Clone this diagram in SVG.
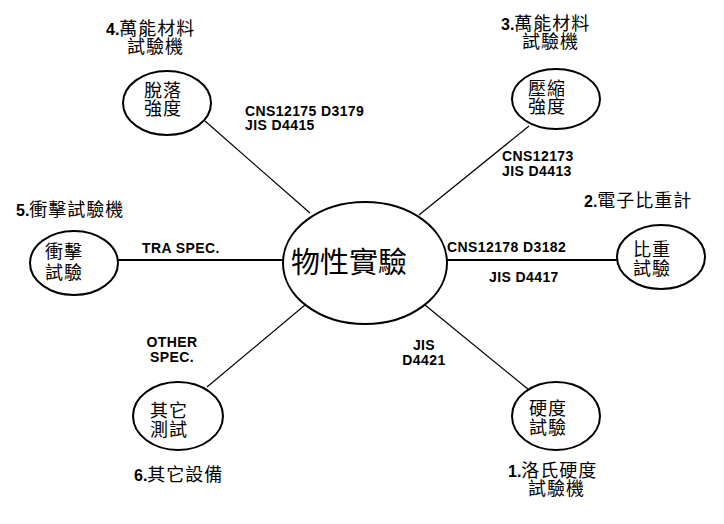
<svg xmlns="http://www.w3.org/2000/svg" width="724" height="524" viewBox="0 0 724 524">
<style>
.node ellipse{fill:#fff;stroke:#000;stroke-width:2}
.cjk{font-family:"Noto Sans CJK TC","Noto Sans CJK SC",sans-serif;font-size:18px;letter-spacing:1px;fill:#000}
.in{text-anchor:middle}
.num{font-family:"Liberation Sans",Arial,sans-serif;font-weight:bold;font-size:16px;letter-spacing:0}
.spec{font-family:"Liberation Sans",Arial,sans-serif;font-weight:bold;font-size:14px;letter-spacing:0.4px;fill:#000}
.thin{stroke:#000;stroke-width:1.2;fill:none}
.thick{stroke:#000;stroke-width:2;fill:none}
</style>
<rect width="724" height="524" fill="#fff"/>
<g id="connectors">
<line class="thin" x1="205" y1="121" x2="310" y2="213"/>
<line class="thin" x1="529" y1="126" x2="419" y2="215"/>
<line class="thick" x1="117" y1="260" x2="283" y2="260"/>
<line class="thick" x1="447" y1="260" x2="617" y2="260"/>
<line class="thin" x1="305" y1="305" x2="207" y2="387"/>
<line class="thin" x1="425" y1="305" x2="529" y2="390"/>
</g>
<g id="center" class="node">
<ellipse cx="365" cy="263" rx="82" ry="61"/>
<text class="cjk in" x="349" y="273" style="font-size:29px;letter-spacing:0">物性實驗</text>
</g>
<g id="n4" class="node">
<ellipse cx="167" cy="103" rx="44" ry="32"/>
<text class="cjk in"><tspan x="163" y="97">脫落</tspan><tspan x="163" y="115">強度</tspan></text>
</g>
<g id="n3" class="node">
<ellipse cx="556" cy="99" rx="44" ry="30"/>
<text class="cjk in"><tspan x="547" y="95">壓縮</tspan><tspan x="547" y="113">強度</tspan></text>
</g>
<g id="n2" class="node">
<ellipse cx="661" cy="257" rx="44" ry="32"/>
<text class="cjk in"><tspan x="652" y="256">比重</tspan><tspan x="652" y="275">試驗</tspan></text>
</g>
<g id="n5" class="node">
<ellipse cx="74" cy="263" rx="44" ry="32"/>
<text class="cjk in"><tspan x="64" y="258">衝擊</tspan><tspan x="64" y="279">試驗</tspan></text>
</g>
<g id="n6" class="node">
<ellipse cx="178" cy="416" rx="45" ry="34"/>
<text class="cjk in"><tspan x="169" y="417">其它</tspan><tspan x="169" y="436">測試</tspan></text>
</g>
<g id="n1" class="node">
<ellipse cx="556" cy="416" rx="44" ry="34"/>
<text class="cjk in"><tspan x="548" y="415">硬度</tspan><tspan x="548" y="434">試驗</tspan></text>
</g>
<g id="labels">
<text class="cjk"><tspan x="106" y="35"><tspan class="num">4.</tspan>萬能材料</tspan><tspan x="127" y="53">試驗機</tspan></text>
<text class="cjk"><tspan x="501" y="30"><tspan class="num">3.</tspan>萬能材料</tspan><tspan x="522" y="48">試驗機</tspan></text>
<text class="cjk" x="584" y="207"><tspan class="num">2.</tspan>電子比重計</text>
<text class="cjk" x="16" y="216"><tspan class="num">5.</tspan>衝擊試驗機</text>
<text class="cjk" x="134" y="481"><tspan class="num">6.</tspan>其它設備</text>
<text class="cjk"><tspan x="508" y="477"><tspan class="num">1.</tspan>洛氏硬度</tspan><tspan x="528" y="495">試驗機</tspan></text>
<text class="spec"><tspan x="245" y="116">CNS12175 D3179</tspan><tspan x="245" y="130">JIS D4415</tspan></text>
<text class="spec"><tspan x="502" y="161">CNS12173</tspan><tspan x="502" y="176">JIS D4413</tspan></text>
<text class="spec" x="447" y="252">CNS12178 D3182</text>
<text class="spec" x="489" y="282">JIS D4417</text>
<text class="spec" x="142" y="253">TRA SPEC.</text>
<text class="spec" text-anchor="middle"><tspan x="172" y="347">OTHER</tspan><tspan x="172" y="362">SPEC.</tspan></text>
<text class="spec" text-anchor="middle"><tspan x="424" y="350">JIS</tspan><tspan x="424" y="365">D4421</tspan></text>
</g>
</svg>
